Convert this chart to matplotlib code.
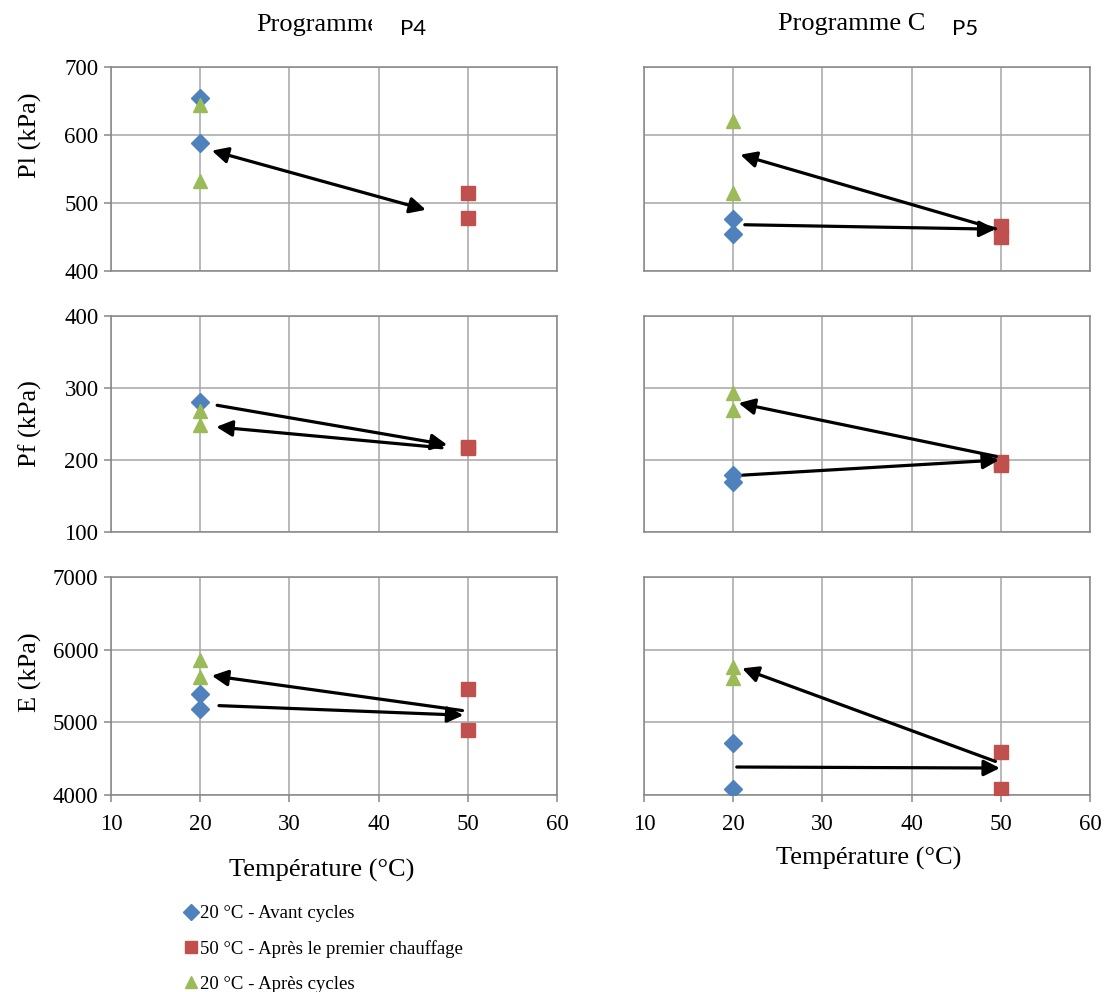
import matplotlib
matplotlib.use('Agg')
import matplotlib.pyplot as plt
from matplotlib.transforms import Bbox

plt.rcParams['font.family'] = 'Liberation Serif'

# Temperatures (°C)
t_avant = 20
t_chauf = 50
t_apres = 20

# Programme P4 (left column)
p4_pl_avant = [655, 588]
p4_pl_chauf = [515, 478]
p4_pl_apres = [644, 532]
p4_pf_avant = [280]
p4_pf_chauf = [218, 217]
p4_pf_apres = [268, 248]
p4_e_avant = [5386, 5180]
p4_e_chauf = [5455, 4897]
p4_e_apres = [5857, 5628]

# Programme C / P5 (right column)
p5_pl_avant = [477, 454]
p5_pl_chauf = [466, 450]
p5_pl_apres = [620, 515]
p5_pf_avant = [179, 169]
p5_pf_chauf = [197, 193]
p5_pf_apres = [293, 269]
p5_e_avant = [4717, 4084]
p5_e_chauf = [4593, 4084]
p5_e_apres = [5762, 5610]

# Arrows: (x start, y start, x tip, y tip)
p4_pl_arrows = [(45.3, 490, 21.3, 577)]
p4_pf_arrows = [(21.9, 276, 47.7, 221), (47.1, 217, 21.8, 246)]
p4_e_arrows = [(22.1, 5230, 49.5, 5098), (49.4, 5162, 21.3, 5642)]
p5_pl_arrows = [(21.3, 468, 49.4, 461.5), (49.4, 462, 20.8, 571)]
p5_pf_arrows = [(21.1, 179, 49.8, 200), (49.5, 205, 20.6, 279)]
p5_e_arrows = [(20.4, 4385, 49.9, 4371), (49.4, 4462, 21.0, 5743)]

ylabels = ['Pl (kPa)', 'Pf (kPa)', 'E (kPa)']
ylims = [(400, 700), (100, 400), (4000, 7000)]
yticks = [[400, 500, 600, 700], [100, 200, 300, 400], [4000, 5000, 6000, 7000]]
xticks = [10, 20, 30, 40, 50, 60]
legend_labels = ['20 °C - Avant cycles', '50 °C - Après le premier chauffage',
                 '20 °C - Après cycles']

col_blue = '#4F81BD'
col_red = '#C0504D'
col_green = '#9BBB59'
grid_col = '#A6A6A6'
spine_col = '#868686'

W, H = 1108, 992
fig = plt.figure(figsize=(W / 100, H / 100), dpi=100)

col_x = [111, 644]
col_w = 446
rows_px = [(67, 271), (316, 532), (577, 795)]

panels = [
    [(p4_pl_avant, p4_pl_chauf, p4_pl_apres, p4_pl_arrows),
     (p4_pf_avant, p4_pf_chauf, p4_pf_apres, p4_pf_arrows),
     (p4_e_avant, p4_e_chauf, p4_e_apres, p4_e_arrows)],
    [(p5_pl_avant, p5_pl_chauf, p5_pl_apres, p5_pl_arrows),
     (p5_pf_avant, p5_pf_chauf, p5_pf_apres, p5_pf_arrows),
     (p5_e_avant, p5_e_chauf, p5_e_apres, p5_e_arrows)],
]

handles = None
for c in range(2):
    for r in range(3):
        top, bot = rows_px[r]
        ax = fig.add_axes([col_x[c] / W, 1 - bot / H, col_w / W, (bot - top) / H])
        avant, chauf, apres, arrows = panels[c][r]

        h1, = ax.plot([t_avant] * len(avant), avant, 'D', color=col_blue, ms=9, ls='none', zorder=4)
        h2, = ax.plot([t_chauf] * len(chauf), chauf, 's', color=col_red, ms=10, ls='none', zorder=4)
        h3, = ax.plot([t_apres] * len(apres), apres, '^', color=col_green, ms=10.5, ls='none', zorder=4)
        if handles is None:
            handles = [h1, h2, h3]

        double = (c == 0 and r == 0)
        for x0, y0, x1, y1 in arrows:
            ax.annotate('', xy=(x1, y1), xytext=(x0, y0),
                        arrowprops=dict(arrowstyle='<|-|>' if double else '-|>',
                                        color='black', lw=2.3, mutation_scale=24,
                                        shrinkA=0, shrinkB=0), zorder=5)

        ax.set_xlim(10, 60)
        ax.set_ylim(*ylims[r])
        ax.set_xticks(xticks)
        ax.set_yticks(yticks[r])
        ax.grid(True, color=grid_col, lw=1.1, zorder=0)
        ax.set_axisbelow(True)
        for s in ax.spines.values():
            s.set_color(spine_col)
            s.set_linewidth(1.1)

        ax.tick_params(axis='both', colors=spine_col, labelcolor='black',
                       labelsize=16.5, direction='out', length=5, width=1.1)
        if r < 2:
            ax.tick_params(axis='x', length=0, labelbottom=False)
        else:
            ax.tick_params(axis='x', pad=9)
        if c == 1:
            ax.tick_params(axis='y', length=0, labelleft=False)
        else:
            ax.tick_params(axis='y', pad=4)

# axis labels
ylabel_y = [135, 424, 672]
for r in range(3):
    fig.text(30 / W, 1 - ylabel_y[r] / H, ylabels[r], rotation=90,
             ha='center', va='center', fontsize=19)
fig.text(322 / W, 1 - 870 / H, 'Température (°C)', ha='center', va='center', fontsize=19)
fig.text(869 / W, 1 - 858 / H, 'Température (°C)', ha='center', va='center', fontsize=19)

# titles
t = fig.text(256 / W, 1 - 25 / H, 'Programme', ha='left', va='center', fontsize=19)
t.set_clip_box(Bbox.from_extents(0, 0, 372, H))
t.set_clip_on(True)
fig.text(400 / W, 1 - 29 / H, 'P4', ha='left', va='center', fontsize=16, family='Lato')
fig.text(778 / W, 1 - 24 / H, 'Programme C', ha='left', va='center', fontsize=19)
fig.text(952 / W, 1 - 29 / H, 'P5', ha='left', va='center', fontsize=16, family='Lato')

fig.legend(handles, legend_labels, loc='upper left', bbox_to_anchor=(186 / W, 1 - 905 / H),
           frameon=False, fontsize=13.5, handlelength=0.55, handletextpad=0.2,
           labelspacing=0.95, borderpad=0, borderaxespad=0, markerscale=0.85)

fig.savefig('out.png', dpi=100)
